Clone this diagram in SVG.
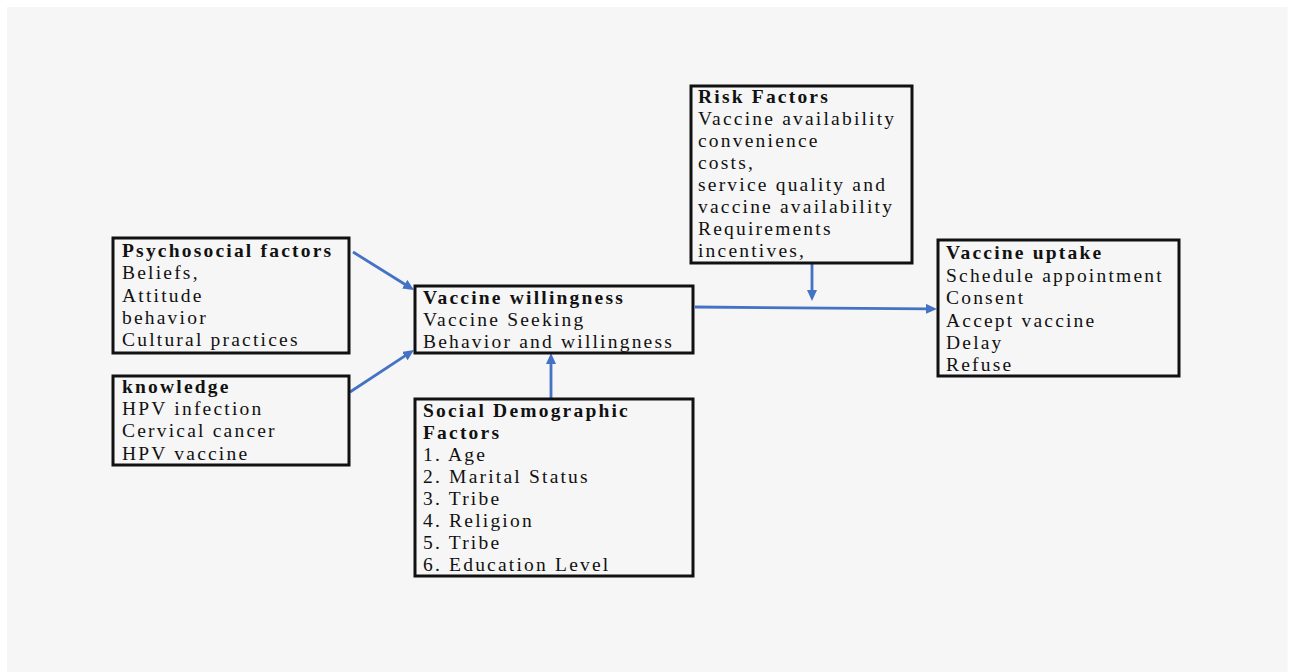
<svg xmlns="http://www.w3.org/2000/svg" width="1295" height="672" viewBox="0 0 1295 672">
<style>
.box{fill:#f6f6f6;stroke:#111;stroke-width:3}
.t{font-family:"Liberation Serif","Times New Roman",serif;font-size:19.5px;letter-spacing:2.2px;fill:#111}
.b{font-weight:bold}
.c{fill:none;stroke:#4472c4;stroke-width:2.8}
</style>
<defs>
<marker id="ah" markerUnits="userSpaceOnUse" markerWidth="12" markerHeight="11" refX="2" refY="5" orient="auto">
<path d="M0,0 L11,5 L0,10 z" fill="#4472c4"/>
</marker>
</defs>
<rect x="0" y="0" width="1295" height="672" fill="#ffffff"/>
<rect x="7" y="7" width="1280.5" height="665" fill="#f6f6f6"/>

<g id="connectors">
<line class="c" x1="353" y1="252" x2="406.4" y2="285.2" marker-end="url(#ah)"/>
<line class="c" x1="350" y1="392" x2="406.5" y2="354.9" marker-end="url(#ah)"/>
<line class="c" x1="551" y1="398" x2="551" y2="362" marker-end="url(#ah)"/>
<line class="c" x1="695" y1="307" x2="928" y2="308.9" marker-end="url(#ah)"/>
<line class="c" x1="812" y1="263" x2="812" y2="292" marker-end="url(#ah)"/>
</g>

<g id="psychosocial">
<rect class="box" x="113" y="238" width="236" height="115"/>
<text class="t b" x="122" y="257">Psychosocial factors</text>
<text class="t" x="122" y="279">Beliefs,</text>
<text class="t" x="122" y="302">Attitude</text>
<text class="t" x="122" y="324">behavior</text>
<text class="t" x="122" y="346">Cultural practices</text>
</g>

<g id="knowledge">
<rect class="box" x="113" y="376" width="236" height="89"/>
<text class="t b" x="122" y="393">knowledge</text>
<text class="t" x="122" y="415">HPV infection</text>
<text class="t" x="122" y="437">Cervical cancer</text>
<text class="t" x="122" y="460">HPV vaccine</text>
</g>

<g id="willingness">
<rect class="box" x="415" y="286" width="278" height="67"/>
<text class="t b" x="423" y="304">Vaccine willingness</text>
<text class="t" x="423" y="326">Vaccine Seeking</text>
<text class="t" x="423" y="348">Behavior and willingness</text>
</g>

<g id="sociodemographic">
<rect class="box" x="415" y="399" width="278" height="177"/>
<text class="t b" x="423" y="417">Social Demographic</text>
<text class="t b" x="423" y="439">Factors</text>
<text class="t" x="423" y="461">1. Age</text>
<text class="t" x="423" y="483">2. Marital Status</text>
<text class="t" x="423" y="505">3. Tribe</text>
<text class="t" x="423" y="527">4. Religion</text>
<text class="t" x="423" y="549">5. Tribe</text>
<text class="t" x="423" y="571">6. Education Level</text>
</g>

<g id="risk">
<rect class="box" x="691" y="86" width="221" height="177"/>
<text class="t b" x="698" y="103">Risk Factors</text>
<text class="t" x="698" y="125">Vaccine availability</text>
<text class="t" x="698" y="147">convenience</text>
<text class="t" x="698" y="169">costs,</text>
<text class="t" x="698" y="191">service quality and</text>
<text class="t" x="698" y="213">vaccine availability</text>
<text class="t" x="698" y="235">Requirements</text>
<text class="t" x="698" y="257">incentives,</text>
</g>

<g id="uptake">
<rect class="box" x="938" y="240" width="241" height="136"/>
<text class="t b" x="946" y="259">Vaccine uptake</text>
<text class="t" x="946" y="282">Schedule appointment</text>
<text class="t" x="946" y="304">Consent</text>
<text class="t" x="946" y="327">Accept vaccine</text>
<text class="t" x="946" y="349">Delay</text>
<text class="t" x="946" y="371">Refuse</text>
</g>
</svg>
